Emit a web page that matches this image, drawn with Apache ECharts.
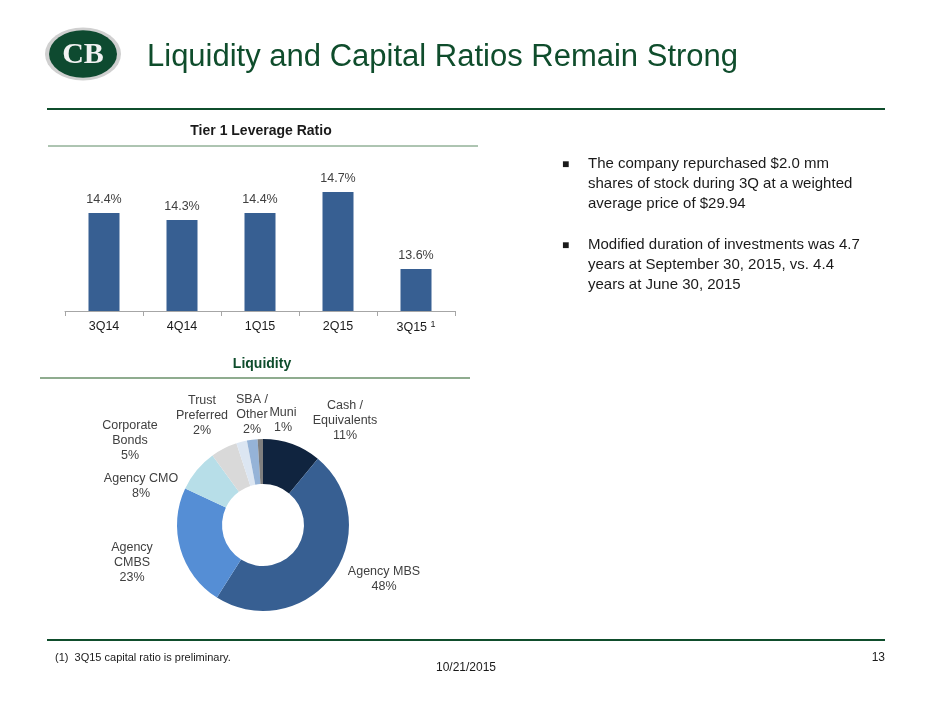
<!DOCTYPE html>
<html>
<head>
<meta charset="utf-8">
<title>Liquidity and Capital Ratios</title>
<script src="https://cdn.jsdelivr.net/npm/echarts@6/dist/echarts.min.js"></script>
<style>
  html, body { margin: 0; padding: 0; background: #fff; }
  #main { width: 940px; height: 705px; }
</style>
</head>
<body>
<div id="main"></div>
<script>
// Tier 1 leverage ratio by quarter
var quarters = ['3Q14', '4Q14', '1Q15', '2Q15', '3Q15'];
var leverage = [14.4, 14.3, 14.4, 14.7, 13.6];

// liquidity mix (%)
var liqNames = ['Cash /\nEquivalents', 'Agency MBS', 'Agency\nCMBS', 'Agency CMO', 'Corporate\nBonds', 'Trust\nPreferred', 'SBA /\nOther', 'Muni'];
var liqValues = [11, 48, 23, 8, 5, 2, 2, 1];
var liqColors = ['#10243f', '#375f92', '#558ed5', '#b7dee8', '#d9d9d9', '#dce6f2', '#95b3d7', '#7f7f7f'];

// where each donut label sits (centre of text block)
var labelPos = [[345, 421], [384, 579], [132, 563], [141, 486], [130, 441], [202, 416], [252, 415], [283, 420]];

var green = '#0f4d2c';
var font = 'Liberation Sans, Arial, sans-serif';

var chart = echarts.init(document.getElementById('main'));

var pieData = liqNames.map(function (n, i) {
  return { name: n, value: liqValues[i], itemStyle: { color: liqColors[i] } };
});

chart.setOption({
  animation: false,
  textStyle: { fontFamily: font },
  graphic: [
    // logo
    { type: 'circle', x: 83, y: 54, scaleY: 0.7, shape: { cx: 0, cy: 0, r: 38 },
      style: { fill: '#d0d0d0' } },
    { type: 'circle', x: 83, y: 54, scaleY: 0.7, shape: { cx: 0, cy: 0, r: 34 },
      style: { fill: '#0e4a30' } },
    { type: 'text', x: 83, y: 55, style: { text: 'CB', fill: '#f2f2f2', font: 'bold 30px Liberation Serif, serif',
      align: 'center', verticalAlign: 'middle' } },
    // title
    { type: 'text', x: 147, y: 57, style: { text: 'Liquidity and Capital Ratios Remain Strong', fill: green,
      font: '31px ' + font, verticalAlign: 'middle' } },
    { type: 'line', shape: { x1: 47, y1: 109, x2: 885, y2: 109 }, style: { stroke: green, lineWidth: 2 } },
    // section headers
    { type: 'text', x: 261, y: 131, style: { text: 'Tier 1 Leverage Ratio', fill: '#1a1a1a',
      font: 'bold 14px ' + font, align: 'center', verticalAlign: 'middle' } },
    { type: 'line', shape: { x1: 48, y1: 146, x2: 478, y2: 146 }, style: { stroke: '#5d8a64', lineWidth: 1 } },
    { type: 'text', x: 262, y: 364, style: { text: 'Liquidity', fill: green,
      font: 'bold 14px ' + font, align: 'center', verticalAlign: 'middle' } },
    { type: 'line', shape: { x1: 40, y1: 378, x2: 470, y2: 378 }, style: { stroke: '#8fac8f', lineWidth: 2 } },
    // bullets
    { type: 'text', x: 562, y: 165, style: { text: '\u25A0', fill: '#1a1a1a', font: '12px ' + font, verticalAlign: 'middle' } },
    { type: 'text', x: 588, y: 154, style: { text: 'The company repurchased $2.0 mm\nshares of stock during 3Q at a weighted\naverage price of $29.94',
      fill: '#1a1a1a', font: '15px ' + font, lineHeight: 20 } },
    { type: 'text', x: 562, y: 246, style: { text: '\u25A0', fill: '#1a1a1a', font: '12px ' + font, verticalAlign: 'middle' } },
    { type: 'text', x: 588, y: 235, style: { text: 'Modified duration of investments was 4.7\nyears at September 30, 2015, vs. 4.4\nyears at June 30, 2015',
      fill: '#1a1a1a', font: '15px ' + font, lineHeight: 20 } },
    // footer
    { type: 'line', shape: { x1: 47, y1: 640, x2: 885, y2: 640 }, style: { stroke: green, lineWidth: 2 } },
    { type: 'text', x: 55, y: 658, style: { text: '(1)  3Q15 capital ratio is preliminary.', fill: '#1a1a1a',
      font: '11px ' + font, verticalAlign: 'middle' } },
    { type: 'text', x: 466, y: 668, style: { text: '10/21/2015', fill: '#1a1a1a',
      font: '12px ' + font, align: 'center', verticalAlign: 'middle' } },
    { type: 'text', x: 885, y: 658, style: { text: '13', fill: '#1a1a1a',
      font: '12px ' + font, align: 'right', verticalAlign: 'middle' } }
  ],
  grid: { left: 65, width: 390, top: 171, height: 140 },
  xAxis: {
    type: 'category',
    data: quarters,
    axisLine: { lineStyle: { color: '#a6a6a6' } },
    axisTick: { show: true, length: 5, lineStyle: { color: '#a6a6a6' } },
    axisLabel: {
      interval: 0, margin: 9, color: '#1a1a1a', fontSize: 12.5,
      formatter: function (v, i) { return i === quarters.length - 1 ? v + ' {sup|1}' : v; },
      rich: { sup: { fontSize: 9, verticalAlign: 'top', padding: [0, 0, 6, 0], color: '#1a1a1a' } }
    }
  },
  yAxis: { type: 'value', min: 13, max: 15, show: false, splitLine: { show: false } },
  series: [{
    type: 'bar',
    data: leverage,
    barWidth: 31,
    itemStyle: { color: '#375f92' },
    label: { show: true, position: 'top', distance: 7, color: '#404040', fontSize: 12.5,
      formatter: function (p) { return p.value.toFixed(1) + '%'; } }
  }, {
    type: 'pie',
    center: [263, 525],
    radius: [41, 86],
    startAngle: 90,
    clockwise: true,
    data: pieData,
    label: {
      show: true, position: 'outside', color: '#404040', fontSize: 12.5, lineHeight: 15,
      formatter: function (p) { return p.name + '\n' + p.value + '%'; }
    },
    labelLine: { show: false },
    labelLayout: function (p) {
      var pos = labelPos[p.dataIndex];
      return { x: pos[0], y: pos[1], align: 'center', verticalAlign: 'middle' };
    },
    emphasis: { disabled: true }
  }]
});
</script>
</body>
</html>
